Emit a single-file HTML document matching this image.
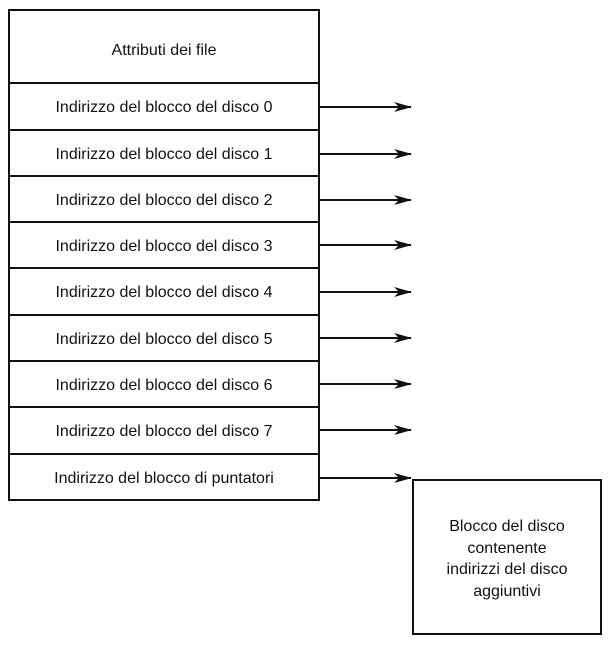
<!DOCTYPE html>
<html><head><style>
body{margin:0;background:#fff;}
svg text{font-family:"Liberation Sans",Arial,sans-serif;font-size:16px;fill:#111;}
</style></head><body>
<svg width="616" height="642" xmlns="http://www.w3.org/2000/svg">
<defs><marker id="a" markerWidth="18" markerHeight="10" refX="17" refY="5" orient="auto" markerUnits="userSpaceOnUse"><path d="M0,0 L18,5 L0,10 L5,5 Z" fill="#111"/></marker></defs>
<g stroke="#111" stroke-width="2" fill="none">
<rect x="9" y="10" width="310" height="490"/>
<line x1="9" y1="83" x2="319" y2="83"/>
<line x1="9" y1="130" x2="319" y2="130"/>
<line x1="9" y1="176" x2="319" y2="176"/>
<line x1="9" y1="222" x2="319" y2="222"/>
<line x1="9" y1="268" x2="319" y2="268"/>
<line x1="9" y1="315" x2="319" y2="315"/>
<line x1="9" y1="361" x2="319" y2="361"/>
<line x1="9" y1="407" x2="319" y2="407"/>
<line x1="9" y1="454" x2="319" y2="454"/>
<rect x="413" y="480" width="188" height="154"/>
<g marker-end="url(#a)">
<line x1="319" y1="107" x2="411" y2="107"/>
<line x1="319" y1="154" x2="411" y2="154"/>
<line x1="319" y1="200" x2="411" y2="200"/>
<line x1="319" y1="245" x2="411" y2="245"/>
<line x1="319" y1="292" x2="411" y2="292"/>
<line x1="319" y1="338" x2="411" y2="338"/>
<line x1="319" y1="384" x2="411" y2="384"/>
<line x1="319" y1="430" x2="411" y2="430"/>
<line x1="319" y1="478" x2="411" y2="478"/>
</g></g>
<g text-anchor="middle">
<text x="164" y="55">Attributi dei file</text>
<text x="164" y="112">Indirizzo del blocco del disco 0</text>
<text x="164" y="159">Indirizzo del blocco del disco 1</text>
<text x="164" y="205">Indirizzo del blocco del disco 2</text>
<text x="164" y="251">Indirizzo del blocco del disco 3</text>
<text x="164" y="297">Indirizzo del blocco del disco 4</text>
<text x="164" y="344">Indirizzo del blocco del disco 5</text>
<text x="164" y="390">Indirizzo del blocco del disco 6</text>
<text x="164" y="436">Indirizzo del blocco del disco 7</text>
<text x="164" y="483">Indirizzo del blocco di puntatori</text>
<text x="507" y="531">Blocco del disco</text>
<text x="507" y="553">contenente</text>
<text x="507" y="574">indirizzi del disco</text>
<text x="507" y="596">aggiuntivi</text>
</g>
</svg>
</body></html>
